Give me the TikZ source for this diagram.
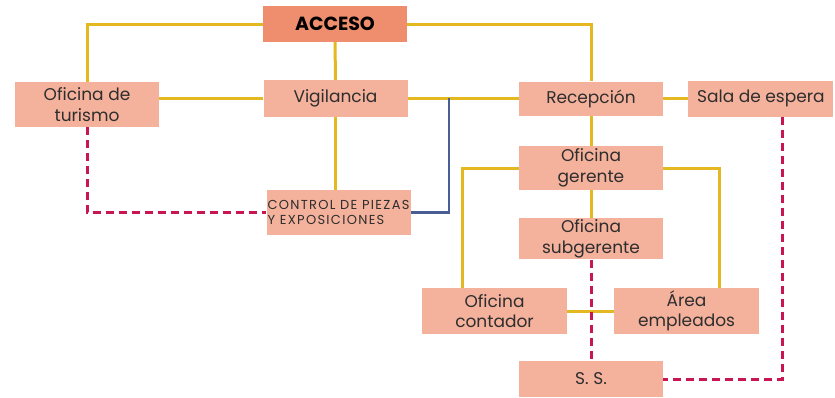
\documentclass[tikz,border=0pt]{standalone}
\usepackage{fontspec}
\setmainfont{Poppins}
\usetikzlibrary{positioning,calc}
\definecolor{boxfill}{RGB}{244,177,155}
\definecolor{accfill}{RGB}{238,142,110}
\definecolor{linkyel}{RGB}{228,184,32}
\definecolor{linkblue}{RGB}{74,94,150}
\definecolor{linkred}{RGB}{200,22,82}
\tikzset{
  orglink/.style={line width=3pt, draw=linkyel},
  orgdash/.style={line width=3pt, draw=linkred, dash pattern=on 8pt off 5pt},
  orgbox/.style={fill=boxfill, text=black!82, align=center, inner sep=0pt, minimum width=144pt, minimum height=36pt},
}

\begin{document}
\begin{tikzpicture}[
  x=1pt, y=-1pt,
  font=\fontsize{17}{21}\selectfont,
  twol/.style={orgbox, minimum height=45pt, font=\fontsize{17}{20.5}\selectfont},
]
  \useasboundingbox (0,0) rectangle (835,397);
  \node[orgbox, fill=accfill, text=black, font=\fontsize{19}{22}\selectfont\bfseries] (acc) at (335,24) {ACCESO};
  \node[orgbox, minimum height=37pt] (vig) at (335.5,98.5) {Vigilancia};
  \node[twol] (tur) at (87,104.5) {Oficina de\\turismo};
  \node[twol, align=left, font=\fontsize{13}{14.5}\selectfont\addfontfeatures{LetterSpace=10}] (ctl) at (338.5,212.5) {\makebox[142pt][l]{CONTROL DE PIEZAS}\\\makebox[142pt][l]{Y EXPOSICIONES}};
  \node[orgbox, minimum height=34pt] (rec) at (591,98.5) {Recepción};
  \node[orgbox, right=25pt of rec, minimum width=145pt] (sala) {Sala de espera};
  \node[twol, minimum height=44pt] (ger) at (591,168) {Oficina\\gerente};
  \node[twol, minimum height=41pt, below=28pt of ger] (sub) {Oficina\\subgerente};
  \node[twol, minimum height=46pt, minimum width=145pt] (cont) at (494.5,311) {Oficina\\contador};
  \node[twol, minimum height=46pt, minimum width=145pt] (emp) at (686.5,311) {Área\\empleados};
  \node[orgbox] (ss) at (591,379) {S. S.};
  \coordinate (bj) at (449,98);

  \draw[orglink] (acc.west) -| (tur.north);
  \draw[orglink] (acc.east) -| (rec.north);
  \draw[orglink] (acc) -- (vig);
  \draw[orglink] (vig.west) -- (vig.west -| tur.east);
  \draw[orglink] (vig) -- (rec);
  \draw[orglink] (vig) -- (ctl.north -| vig);
  \draw[orglink] (rec) -- (sala);
  \draw[orglink] (rec) -- (ger);
  \draw[orglink] (ger) -- (sub);
  \draw[orglink] (ger.west) -| ([xshift=41pt]cont.north west);
  \draw[orglink] (ger.east) -| ([xshift=-40pt]emp.north east);
  \draw[orglink] (cont) -- (emp);
  \draw[line width=2.5pt, draw=linkblue] (ctl.east) -| (bj);
  \draw[orgdash] (tur.south) |- (ctl.west);
  \draw[orgdash] (sub.south) -- (ss.north);
  \draw[orgdash] ([xshift=22pt]sala.south) |- (ss.east);
\end{tikzpicture}
\end{document}
